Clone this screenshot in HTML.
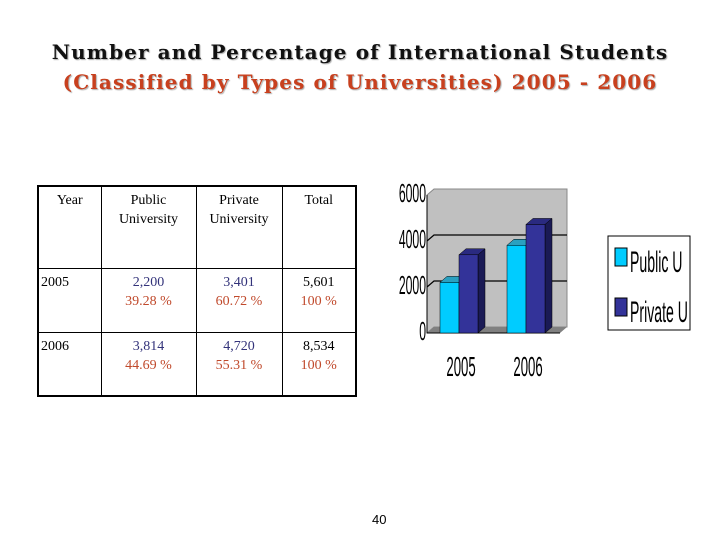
<!DOCTYPE html>
<html><head><meta charset="utf-8"><style>
body{margin:0;width:720px;height:540px;background:#fff;position:relative;overflow:hidden;font-family:"Liberation Serif",serif}
.t{position:absolute;left:0;width:720px;text-align:center;font-weight:bold;font-size:20px;font-family:"DejaVu Serif",serif;letter-spacing:1.1px;text-shadow:1px 1px 1px #aaa;white-space:nowrap}
table{position:absolute;left:37px;top:185px;border-collapse:collapse;border:2px solid #000;font-size:14px;table-layout:fixed;width:318px}
td{border:1px solid #000;vertical-align:top;text-align:center;padding:4px 2px;line-height:19px;overflow:hidden}
.b{color:#33337a}.r{color:#c0492b}
</style></head><body>
<div class="t" style="top:40px;color:#111">Number and Percentage of International Students</div>
<div class="t" style="top:70px;color:#c8401e">(Classified by Types of Universities) 2005 - 2006</div>
<table>
<colgroup><col style="width:63px"><col style="width:95px"><col style="width:86px"><col style="width:74px"></colgroup>
<tr style="height:82px"><td>Year</td><td>Public<br>University</td><td>Private<br>University</td><td>Total</td></tr>
<tr style="height:64px"><td style="text-align:left">2005</td><td><span class="b">2,200</span><br><span class="r">39.28 %</span></td><td><span class="b">3,401</span><br><span class="r">60.72 %</span></td><td>5,601<br><span class="r">100 %</span></td></tr>
<tr style="height:64px"><td style="text-align:left">2006</td><td><span class="b">3,814</span><br><span class="r">44.69 %</span></td><td><span class="b">4,720</span><br><span class="r">55.31 %</span></td><td>8,534<br><span class="r">100 %</span></td></tr>
</table>
<svg id="ch" width="720" height="540" style="position:absolute;left:0;top:0"></svg>
<div style="position:absolute;left:372px;top:512px;font-family:'Liberation Sans',sans-serif;font-size:13px">40</div>
<script>
const categories=["2005","2006"];
const publicVals=[2200,3814];
const privateVals=[3401,4720];
const ticks=[0,2000,4000,6000];
const svg=document.getElementById('ch');const NS="http://www.w3.org/2000/svg";
function mk(t,a,p){const e=document.createElementNS(NS,t);for(const k in a)e.setAttribute(k,a[k]);(p||svg).appendChild(e);return e;}
const y0=333,k=46/2000,dx=7,dy=6;
const y=v=>y0-v*k;
const xL=427,xR=560;
const w=mk('polygon',{points:`${xL},${y(6000)} ${xL+dx},${y(6000)-dy} ${xR+dx},${y(6000)-dy} ${xR+dx},${y0-dy} ${xL+dx},${y0-dy} ${xL},${y0}`,fill:'#c0c0c0',stroke:'#888'});

const fl=mk('polygon',{points:`${xL},${y0} ${xL+dx},${y0-dy} ${xR+dx},${y0-dy} ${xR},${y0}`,fill:'#808080'});

ticks.forEach(t=>{
 if(t>0&&t<6000){const g=mk('polyline',{points:`${xL},${y(t)} ${xL+dx},${y(t)-dy} ${xR+dx},${y(t)-dy}`,fill:'none',stroke:'#000','stroke-width':1.2});
 }
 const tx=mk('text',{x:0,y:0,'font-size':26,'font-family':'Liberation Sans, sans-serif','text-anchor':'end',transform:`translate(${xL-1},${y(t)+7}) scale(0.47,1)`});
 tx.textContent=t;
});
mk('line',{x1:xL,y1:y(6000),x2:xL,y2:y0,stroke:'#000'});
mk('line',{x1:xL,y1:y0,x2:xR,y2:y0,stroke:'#000'});
function bar(x,v,front,side,top,name){
 const g=mk('g',{});
 const bw=19,yt=y(v);
 mk('polygon',{points:`${x+bw},${yt} ${x+bw+dx},${yt-dy} ${x+bw+dx},${y0-dy} ${x+bw},${y0}`,fill:side,stroke:'#000','stroke-width':.5},g);
 mk('polygon',{points:`${x},${yt} ${x+dx},${yt-dy} ${x+bw+dx},${yt-dy} ${x+bw},${yt}`,fill:top,stroke:'#000','stroke-width':.5},g);
 mk('rect',{x:x,y:yt,width:bw,height:y0-yt,fill:front,stroke:'#000','stroke-width':.5},g);
}
categories.forEach((c,i)=>{
 const x=440+i*67;
 bar(x,publicVals[i],'#00ccff','#0088aa','#2aa0c0','bar-public-'+c);
 bar(x+19,privateVals[i],'#333399','#1a1a55','#2a2a80','bar-private-'+c);
 const tx=mk('text',{x:0,y:0,'font-size':28,'font-family':'Liberation Sans, sans-serif','text-anchor':'middle',transform:`translate(${x+21},${376}) scale(0.47,1)`});
 tx.textContent=c;
});
const lg=mk('g',{});
mk('rect',{x:608,y:236,width:82,height:94,fill:'#fff',stroke:'#000'},lg);
[['Public U','#00ccff',262],['Private U','#333399',312]].forEach(([n,c,yy])=>{
 mk('rect',{x:615,y:yy-14,width:12,height:18,fill:c,stroke:'#000'},lg);
 const t=mk('text',{x:0,y:0,'font-size':30,'font-family':'Liberation Sans, sans-serif',transform:`translate(630,${yy+10}) scale(0.47,1)`},lg);
 t.textContent=n;
});
</script>
</body></html>
